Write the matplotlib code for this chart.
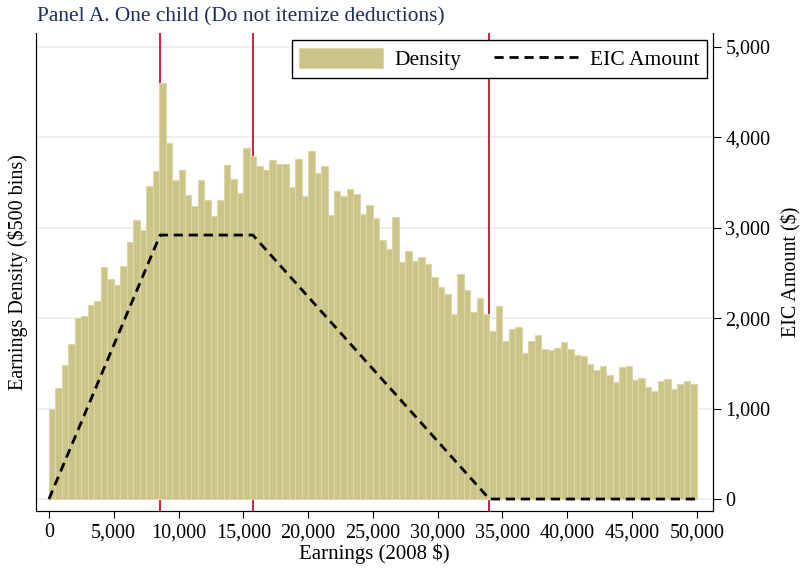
import numpy as np
import matplotlib.pyplot as plt
from matplotlib.ticker import FuncFormatter

plt.rcParams['font.family'] = ['Liberation Serif', 'DejaVu Serif']

# Earnings histogram, $500 bins from 0 to 50,000 (heights in axis units)
bin_left = np.arange(0, 50000, 500)
density = [990, 1222, 1479, 1718, 2001, 2024, 2149, 2185, 2565, 2428,
           2369, 2576, 2840, 3079, 2976, 3462, 3624, 4603, 3933, 3521,
           3639, 3355, 3241, 3525, 3308, 3131, 3308, 3694, 3532, 3385,
           3878, 3786, 3683, 3631, 3742, 3698, 3701, 3447, 3760, 3352,
           3841, 3602, 3675, 3135, 3403, 3352, 3429, 3374, 3149, 3252,
           3105, 2866, 2759, 3116, 2620, 2737, 2631, 2678, 2601, 2454,
           2344, 2263, 2040, 2483, 2307, 2068, 2220, 2040, 1858, 2130,
           1748, 1884, 1898, 1615, 1751, 1817, 1656, 1652, 1667, 1733,
           1663, 1597, 1586, 1494, 1431, 1468, 1369, 1295, 1461, 1468,
           1313, 1332, 1240, 1196, 1302, 1321, 1221, 1269, 1299, 1273]

# EIC schedule 2008, one child
eic_x = [0, 8580, 15740, 33995, 50000]
eic_y = [0, 2917, 2917, 0, 0]
kinks = [8580, 15740, 33995]

xticks = np.arange(0, 50001, 5000)
yticks = np.arange(0, 5001, 1000)

fig = plt.figure(figsize=(8.05, 5.74), dpi=100)
ax = fig.add_axes([0.0447, 0.1098, 0.8410, 0.8327])
ax2 = ax.twinx()

ylim = (-132, 5150)
for a in (ax, ax2):
    a.set_ylim(*ylim)
ax.set_xlim(-1000, 51250)

# grid lines
for v in yticks:
    ax.axhline(v, color='#e8eff1', lw=1.2, zorder=0)

# kink lines
for k in kinks:
    ax.axvline(k, color='#c8102e', lw=1.3, zorder=1)

ax.bar(bin_left, density, width=500, align='edge', color='#cbc488',
       edgecolor='#ddd7a6', linewidth=0.8, zorder=2, label='Density')

ax2.plot(eic_x, eic_y, color='black', lw=2.0, dashes=(3.3, 2.1),
         label='EIC Amount', zorder=3)

# axes styling
ax.spines['top'].set_visible(False)
ax2.spines['top'].set_visible(False)
ax.tick_params(axis='y', left=False, labelleft=False)
ax.tick_params(axis='x', direction='out', length=5, labelsize=14.5, pad=4)
ax.set_xticks(xticks)
ax.xaxis.set_major_formatter(FuncFormatter(lambda v, p: f'{int(v):,}'))

ax2.set_yticks(yticks)
ax2.yaxis.set_major_formatter(FuncFormatter(lambda v, p: f'{int(v):,}'))
ax2.tick_params(axis='y', direction='out', length=6, labelsize=14.5, pad=3)

ax.set_xlabel('Earnings (2008 $)', fontsize=15, labelpad=1)
ax.set_ylabel('Earnings Density ($500 bins)', fontsize=14.5, labelpad=6)
ax2.set_ylabel('EIC Amount ($)', fontsize=14.5, labelpad=8)

fig.text(0.046, 0.971, 'Panel A. One child (Do not itemize deductions)',
         fontsize=15.4, color='#1f2d5a', ha='left', va='center')

h1, l1 = ax.get_legend_handles_labels()
h2, l2 = ax2.get_legend_handles_labels()
leg = ax2.legend(h1 + h2, l1 + l2, ncol=2, loc='upper right',
                 bbox_to_anchor=(0.991, 0.985), borderaxespad=0,
                 fontsize=15.5, handlelength=3.9, handleheight=1.1,
                 handletextpad=0.55, columnspacing=1.5, fancybox=False,
                 edgecolor='black', framealpha=1, borderpad=0.35)
leg.get_frame().set_linewidth(1.0)

fig.savefig('out.png', dpi=100)
